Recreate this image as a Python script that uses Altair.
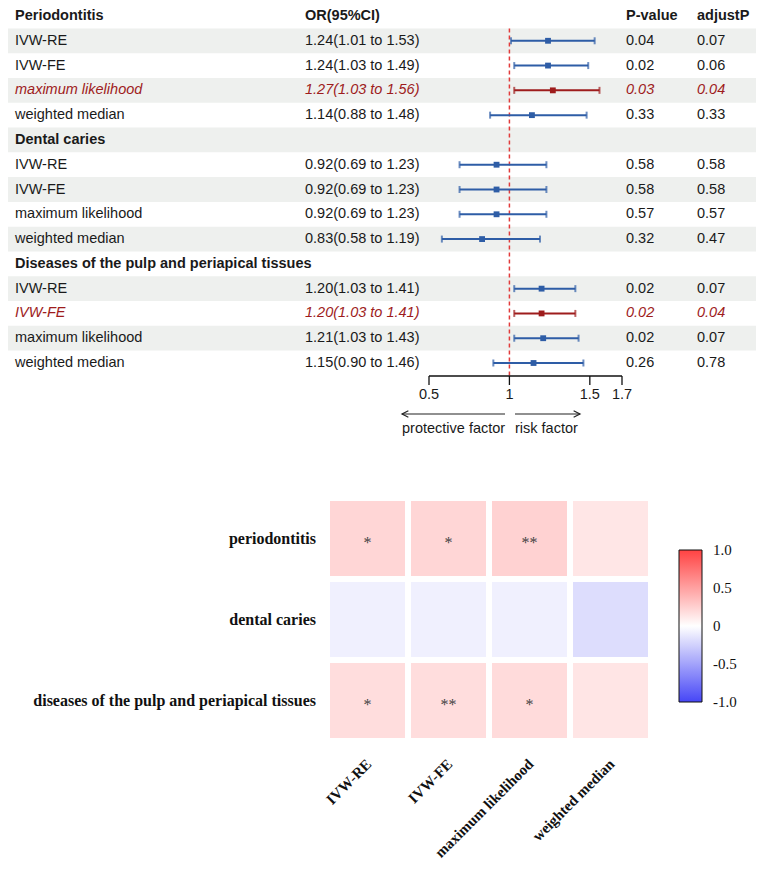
import altair as alt
import pandas as pd

# ---------------- data ----------------
groups = ["Periodontitis", "Dental caries", "Diseases of the pulp and periapical tissues"]
methods = ["IVW-RE", "IVW-FE", "maximum likelihood", "weighted median"]
or_est = [1.24, 1.24, 1.27, 1.14, 0.92, 0.92, 0.92, 0.83, 1.20, 1.20, 1.21, 1.15]
or_lo = [1.01, 1.03, 1.03, 0.88, 0.69, 0.69, 0.69, 0.58, 1.03, 1.03, 1.03, 0.90]
or_hi = [1.53, 1.49, 1.56, 1.48, 1.23, 1.23, 1.23, 1.19, 1.41, 1.41, 1.43, 1.46]
p_values = ["0.04", "0.02", "0.03", "0.33", "0.58", "0.58", "0.57", "0.32", "0.02", "0.02", "0.02", "0.26"]
adjust_p = ["0.07", "0.06", "0.04", "0.33", "0.58", "0.58", "0.57", "0.47", "0.07", "0.04", "0.07", "0.78"]
highlight = [False, False, True, False, False, False, False, False, False, True, False, False]
col_headers = ["OR(95%CI)", "P-value", "adjustP"]
axis_ticks = [0.5, 1, 1.5, 1.7]
axis_labels = ["0.5", "1", "1.5", "1.7"]
null_value = 1.0
direction_labels = ["protective factor", "risk factor"]

heat_rows = ["periodontitis", "dental caries", "diseases of the pulp and periapical tissues"]
heat_beta = [[0.215, 0.215, 0.239, 0.131],
             [-0.083, -0.083, -0.083, -0.186],
             [0.182, 0.182, 0.191, 0.140]]
heat_stars = [["*", "*", "**", ""], ["", "", "", ""], ["*", "**", "*", ""]]
legend_values = [-1.0, -0.5, 0.0, 0.5, 1.0]
legend_labels = ["-1.0", "-0.5", "0", "0.5", "1.0"]
legend_inner_ticks = [-0.5, 0.0, 0.5]

# ---------------- tables ----------------
rows = []
r = 0
k = 0
for gi, g in enumerate(groups):
    rows.append(dict(row=r, label=g,
                     ortxt=col_headers[0] if gi == 0 else "",
                     p=col_headers[1] if gi == 0 else "",
                     adj=col_headers[2] if gi == 0 else "",
                     kind="head", est=None, lo=None, hi=None))
    r += 1
    for m in methods:
        rows.append(dict(row=r, label=m,
                         ortxt=f"{or_est[k]:.2f}({or_lo[k]:.2f} to {or_hi[k]:.2f})",
                         p=p_values[k], adj=adjust_p[k],
                         kind="hl" if highlight[k] else "norm",
                         est=or_est[k], lo=or_lo[k], hi=or_hi[k]))
        r += 1
        k += 1
table = pd.DataFrame(rows)
n_rows = len(table)

heat = pd.DataFrame([dict(disease=heat_rows[i], method=methods[j], beta=heat_beta[i][j], star=heat_stars[i][j])
                     for i in range(len(heat_rows)) for j in range(len(methods))])

BLUE = "#2e5da6"
RED = "#9e1c1c"
TXT = "#1a1a1a"
SANS = "Liberation Sans"
SERIF = "Liberation Serif"
W = 748
H = 854

xsc = alt.Scale(domain=[0.5, 1.7], range=[421, 614], zero=False, nice=False)
ysc = alt.Scale(domain=[0, n_rows - 1], range=[7, 354], zero=False, nice=False)
hx = alt.Scale(domain=methods, range=[319, 643], paddingInner=0.074, paddingOuter=0.037)
hy = alt.Scale(domain=heat_rows, range=[489, 732], paddingInner=0.074, paddingOuter=0.037)

Y = lambda f: alt.Y(f, scale=ysc, axis=None)
X = lambda f: alt.X(f, scale=xsc, axis=None)

layers = []

# striped background
layers.append(
    alt.Chart(table).transform_filter("datum.row % 2 == 1")
    .transform_calculate(b0="datum.row - 0.5", b1="datum.row + 0.5")
    .mark_rect(color="#eef0ee")
    .encode(x=alt.value(0), x2=alt.value(W), y=Y("b0:Q"), y2="b1:Q")
)

# reference line at OR = 1
ref_df = pd.DataFrame({"x": [null_value], "y0": [0.5], "y1": [n_rows - 0.5]})
layers.append(
    alt.Chart(ref_df).mark_rule(color="#e23b3b", strokeDash=[4, 3], strokeWidth=1.5)
    .encode(x=X("x:Q"), y=Y("y0:Q"), y2="y1:Q")
)

col_cond = alt.condition(alt.datum.kind == "hl", alt.value(RED), alt.value(BLUE))
forest = alt.Chart(table).transform_filter("datum.kind != 'head'")
layers.append(forest.mark_rule(strokeWidth=2).encode(x=X("lo:Q"), x2="hi:Q", y=Y("row:Q"), color=col_cond))
layers.append(forest.mark_tick(orient="vertical", size=7, thickness=2).encode(x=X("lo:Q"), y=Y("row:Q"), color=col_cond))
layers.append(forest.mark_tick(orient="vertical", size=7, thickness=2).encode(x=X("hi:Q"), y=Y("row:Q"), color=col_cond))
layers.append(forest.mark_square(size=34, opacity=1).encode(x=X("est:Q"), y=Y("row:Q"), color=col_cond))

# table text columns
styles = {
    "head": dict(fontWeight="bold", color=TXT),
    "norm": dict(color=TXT),
    "hl": dict(fontStyle="italic", color=RED),
}
for field, xpx in [("label", 7), ("ortxt", 297), ("p", 618), ("adj", 689)]:
    for kind, st in styles.items():
        layers.append(
            alt.Chart(table).transform_filter(alt.datum.kind == kind)
            .mark_text(align="left", baseline="middle", font=SANS, fontSize=14.5, **st)
            .encode(x=alt.value(xpx), y=Y("row:Q"), text=f"{field}:N")
        )

# forest x axis
axl = pd.DataFrame({"a": [axis_ticks[0]], "b": [axis_ticks[-1]]})
layers.append(alt.Chart(axl).mark_rule(color="#111", strokeWidth=1.3)
              .encode(x=X("a:Q"), x2="b:Q", y=alt.value(367)))
axt = pd.DataFrame({"t": axis_ticks, "lab": axis_labels})
layers.append(alt.Chart(axt).mark_rule(color="#111", strokeWidth=1.3)
              .encode(x=X("t:Q"), y=alt.value(367), y2=alt.value(376)))
layers.append(alt.Chart(axt).mark_text(align="center", baseline="top", font=SANS, fontSize=14.5, color=TXT)
              .encode(x=X("t:Q"), y=alt.value(379), text="lab:N"))

# direction arrows
dl = pd.DataFrame({"label": [direction_labels[0]]})
dr = pd.DataFrame({"label": [direction_labels[1]]})
layers.append(alt.Chart(dl).mark_rule(color="#222", strokeWidth=1.2)
              .encode(x=alt.value(394), x2=alt.value(497), y=alt.value(405)))
layers.append(alt.Chart(dr).mark_rule(color="#222", strokeWidth=1.2)
              .encode(x=alt.value(507), x2=alt.value(572), y=alt.value(405)))
layers.append(alt.Chart(dl).mark_point(shape="M 1 -1 L -1 0 L 1 1", size=40, filled=False, opacity=1,
                                       stroke="#222", strokeWidth=1.2)
              .encode(x=alt.value(397.2), y=alt.value(405)))
layers.append(alt.Chart(dr).mark_point(shape="M -1 -1 L 1 0 L -1 1", size=40, filled=False, opacity=1,
                                       stroke="#222", strokeWidth=1.2)
              .encode(x=alt.value(568.8), y=alt.value(405)))
layers.append(alt.Chart(dl).mark_text(align="left", baseline="middle", font=SANS, fontSize=14.5, color=TXT)
              .encode(x=alt.value(394), y=alt.value(420), text="label:N"))
layers.append(alt.Chart(dr).mark_text(align="left", baseline="middle", font=SANS, fontSize=14.5, color=TXT)
              .encode(x=alt.value(507), y=alt.value(420), text="label:N"))

# heatmap
layers.append(
    alt.Chart(heat).mark_rect()
    .encode(
        x=alt.X("method:N", scale=hx, axis=None),
        y=alt.Y("disease:N", scale=hy, axis=None),
        color=alt.Color(
            "beta:Q",
            scale=alt.Scale(domain=[-1, 0, 1], range=["#4646f6", "#ffffff", "#ff4242"], interpolate="rgb"),
            legend=alt.Legend(
                orient="none", legendX=671, legendY=541, direction="vertical",
                gradientLength=152, gradientThickness=23, title=None, padding=0,
                labelExpr="''", labelFontSize=1,
                gradientStrokeColor="#111", gradientStrokeWidth=1,
            ),
        ),
    )
)
layers.append(
    alt.Chart(heat).mark_text(font=SERIF, fontSize=16, color="#444", baseline="middle", dy=4)
    .encode(x=alt.X("method:N", scale=hx, axis=None), y=alt.Y("disease:N", scale=hy, axis=None), text="star:N")
)
hr = pd.DataFrame({"disease": heat_rows})
layers.append(
    alt.Chart(hr).mark_text(font=SERIF, fontSize=16, fontWeight="bold", color="#111", align="right", baseline="middle")
    .encode(x=alt.value(308), y=alt.Y("disease:N", scale=hy, axis=None), text="disease:N")
)
hm = pd.DataFrame({"method": methods})
layers.append(
    alt.Chart(hm).mark_text(font=SERIF, fontSize=15, fontWeight="bold", color="#111", align="right",
                            baseline="middle", angle=315, dx=2)
    .encode(x=alt.X("method:N", scale=hx, axis=None), y=alt.value(754), text="method:N")
)

# colorbar ticks and labels
cby = alt.Scale(domain=[-1, 1], range=[693, 541], zero=False, nice=False)
cb = pd.DataFrame({"v": legend_inner_ticks})
layers.append(alt.Chart(cb).mark_rule(color="#111", strokeWidth=1)
              .encode(x=alt.value(671), x2=alt.value(675), y=alt.Y("v:Q", scale=cby, axis=None)))
layers.append(alt.Chart(cb).mark_rule(color="#111", strokeWidth=1)
              .encode(x=alt.value(690), x2=alt.value(694), y=alt.Y("v:Q", scale=cby, axis=None)))
cbl = pd.DataFrame({"v": legend_values, "lab": legend_labels})
layers.append(alt.Chart(cbl).mark_text(font=SERIF, fontSize=15, color="#111", align="left", baseline="middle")
              .encode(x=alt.value(705), y=alt.Y("v:Q", scale=cby, axis=None), text="lab:N"))

chart = (
    alt.layer(*layers)
    .resolve_scale(x="independent", y="independent")
    .properties(width=W, height=H, padding=0)
    .configure_view(stroke=None)
)

chart.save("out.html", embed_options={"renderer": "svg", "actions": False})
